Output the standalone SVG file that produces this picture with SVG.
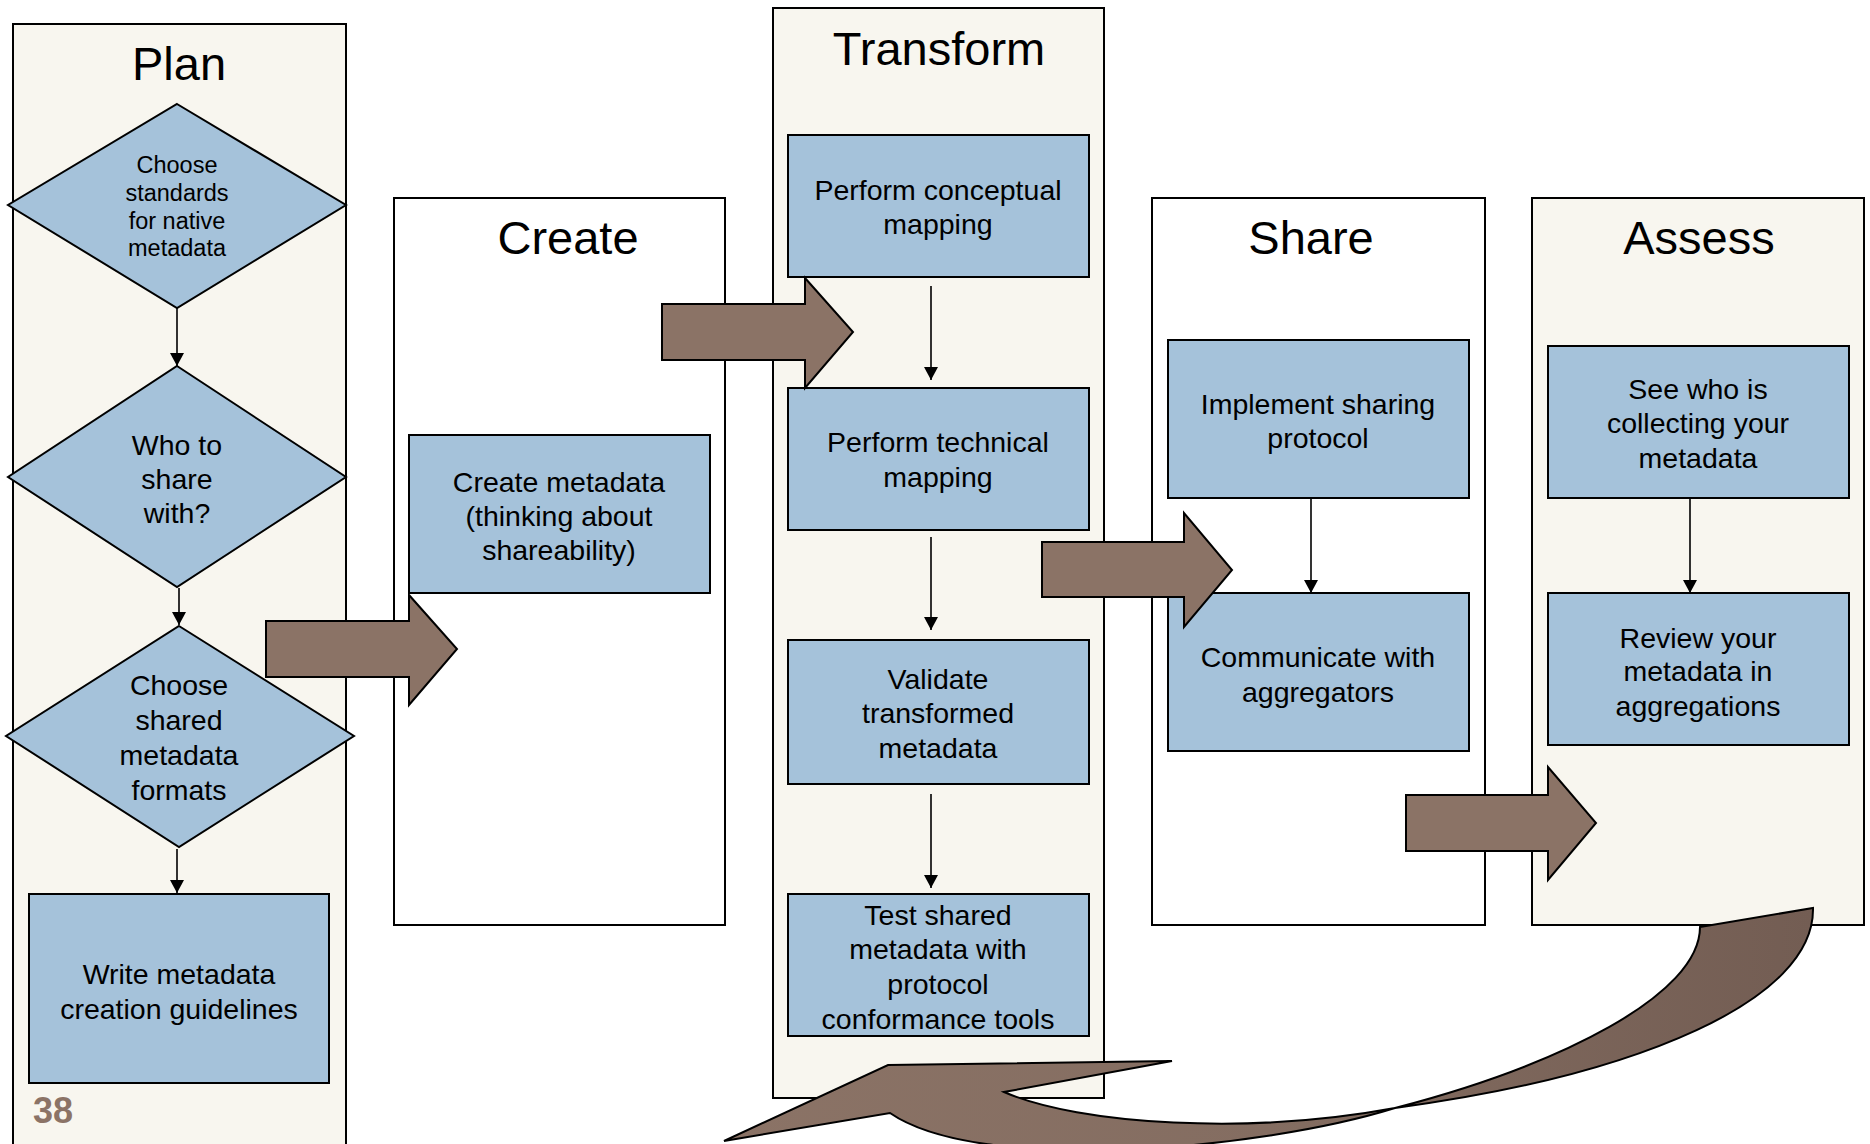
<svg xmlns="http://www.w3.org/2000/svg" width="1870" height="1144" viewBox="0 0 1870 1144">
<defs>
<style>
.lane-c{fill:#F8F6EF;stroke:#000;stroke-width:2}
.lane-w{fill:#FFFFFF;stroke:#000;stroke-width:2}
.box{fill:#A5C2DA;stroke:#000;stroke-width:2}
.title{font-family:"Liberation Sans",Arial,sans-serif;font-size:47px;fill:#000;text-anchor:middle}
.t{font-family:"Liberation Sans",Arial,sans-serif;font-size:28.5px;fill:#000;text-anchor:middle}
.ts{font-family:"Liberation Sans",Arial,sans-serif;font-size:23.5px;fill:#000;text-anchor:middle}
.conn{stroke:#000;stroke-width:1.6;fill:none;marker-end:url(#ah)}
.big{fill:#8B7366;stroke:#000;stroke-width:2;stroke-linejoin:miter}
.num{font-family:"Liberation Sans",Arial,sans-serif;font-size:36px;font-weight:bold;fill:#8B7366}
</style>
<marker id="ah" markerUnits="userSpaceOnUse" markerWidth="14" markerHeight="14" refX="13" refY="7" orient="auto">
<path d="M0,0 L13,7 L0,14 z" fill="#000"/>
</marker>
<linearGradient id="cg" gradientUnits="userSpaceOnUse" x1="724" y1="0" x2="1813" y2="0">
<stop offset="0" stop-color="#8B7366"/>
<stop offset="0.5" stop-color="#846D61"/>
<stop offset="1" stop-color="#735D53"/>
</linearGradient>
</defs>

<g id="lane-plan">
<rect class="lane-c" x="13" y="24" width="333" height="1130"/>
<text class="title" x="179" y="80">Plan</text>
</g>
<g id="lane-create">
<rect class="lane-w" x="394" y="198" width="331" height="727"/>
<text class="title" x="568" y="254">Create</text>
</g>
<g id="lane-transform">
<rect class="lane-c" x="773" y="8" width="331" height="1090"/>
<text class="title" x="939" y="65">Transform</text>
</g>
<g id="lane-share">
<rect class="lane-w" x="1152" y="198" width="333" height="727"/>
<text class="title" x="1311" y="254">Share</text>
</g>
<g id="lane-assess">
<rect class="lane-c" x="1532" y="198" width="332" height="727"/>
<text class="title" x="1699" y="254">Assess</text>
</g>

<g id="plan-standards">
<polygon class="box" points="177,104 346,205 177,308 8,205"/>
<text class="ts" x="177" y="173">Choose</text>
<text class="ts" x="177" y="201">standards</text>
<text class="ts" x="177" y="229">for native</text>
<text class="ts" x="177" y="256">metadata</text>
</g>
<g id="plan-who">
<polygon class="box" points="177,366 346,477 177,587 8,477"/>
<text class="t" x="177" y="455">Who to</text>
<text class="t" x="177" y="489">share</text>
<text class="t" x="177" y="523">with?</text>
</g>
<g id="plan-formats">
<polygon class="box" points="179,626 354,736 179,847 6,736"/>
<text class="t" x="179" y="695">Choose</text>
<text class="t" x="179" y="730">shared</text>
<text class="t" x="179" y="765">metadata</text>
<text class="t" x="179" y="800">formats</text>
</g>
<g id="plan-guidelines">
<rect class="box" x="29" y="894" width="300" height="189"/>
<text class="t" x="179" y="984">Write metadata</text>
<text class="t" x="179" y="1019">creation guidelines</text>
</g>

<g id="create-metadata">
<rect class="box" x="409" y="435" width="301" height="158"/>
<text class="t" x="559" y="492">Create metadata</text>
<text class="t" x="559" y="526">(thinking about</text>
<text class="t" x="559" y="560">shareability)</text>
</g>

<g id="transform-conceptual">
<rect class="box" x="788" y="135" width="301" height="142"/>
<text class="t" x="938" y="200">Perform conceptual</text>
<text class="t" x="938" y="234">mapping</text>
</g>
<g id="transform-technical">
<rect class="box" x="788" y="388" width="301" height="142"/>
<text class="t" x="938" y="452">Perform technical</text>
<text class="t" x="938" y="487">mapping</text>
</g>
<g id="transform-validate">
<rect class="box" x="788" y="640" width="301" height="144"/>
<text class="t" x="938" y="689">Validate</text>
<text class="t" x="938" y="723">transformed</text>
<text class="t" x="938" y="758">metadata</text>
</g>
<g id="transform-test">
<rect class="box" x="788" y="894" width="301" height="142"/>
<text class="t" x="938" y="925">Test shared</text>
<text class="t" x="938" y="959">metadata with</text>
<text class="t" x="938" y="994">protocol</text>
<text class="t" x="938" y="1029">conformance tools</text>
</g>

<g id="share-implement">
<rect class="box" x="1168" y="340" width="301" height="158"/>
<text class="t" x="1318" y="414">Implement sharing</text>
<text class="t" x="1318" y="448">protocol</text>
</g>
<g id="share-communicate">
<rect class="box" x="1168" y="593" width="301" height="158"/>
<text class="t" x="1318" y="667">Communicate with</text>
<text class="t" x="1318" y="702">aggregators</text>
</g>

<g id="assess-see">
<rect class="box" x="1548" y="346" width="301" height="152"/>
<text class="t" x="1698" y="399">See who is</text>
<text class="t" x="1698" y="433">collecting your</text>
<text class="t" x="1698" y="468">metadata</text>
</g>
<g id="assess-review">
<rect class="box" x="1548" y="593" width="301" height="152"/>
<text class="t" x="1698" y="648">Review your</text>
<text class="t" x="1698" y="681">metadata in</text>
<text class="t" x="1698" y="716">aggregations</text>
</g>

<text class="num" x="33" y="1123">38</text>

<g id="connectors">
<line class="conn" x1="177" y1="308" x2="177" y2="366"/>
<line class="conn" x1="179" y1="588" x2="179" y2="625"/>
<line class="conn" x1="177" y1="849" x2="177" y2="893"/>
<line class="conn" x1="931" y1="286" x2="931" y2="380"/>
<line class="conn" x1="931" y1="537" x2="931" y2="630"/>
<line class="conn" x1="931" y1="794" x2="931" y2="888"/>
<line class="conn" x1="1311" y1="498" x2="1311" y2="593"/>
<line class="conn" x1="1690" y1="498" x2="1690" y2="593"/>
<polygon class="big" points="266,621 409,621 409,595 457,649 409,705 409,677 266,677"/>
<polygon class="big" points="662,304 805,304 805,278 853,332 805,388 805,360 662,360"/>
<polygon class="big" points="1042,542 1184,542 1184,513 1232,570 1184,627 1184,597 1042,597"/>
<polygon class="big" points="1406,795 1548,795 1548,767 1596,823 1548,880 1548,851 1406,851"/>
<path class="big" style="fill:url(#cg)" d="M1700,927 L1813,908 C1815,1000 1640,1075 1395,1108 C1260,1150 980,1175 890,1113 L724,1141 L888,1065 L1172,1061 L1004,1092 C1080,1125 1250,1135 1395,1108 C1560,1065 1700,995 1700,927 Z"/>
</g>
</svg>
